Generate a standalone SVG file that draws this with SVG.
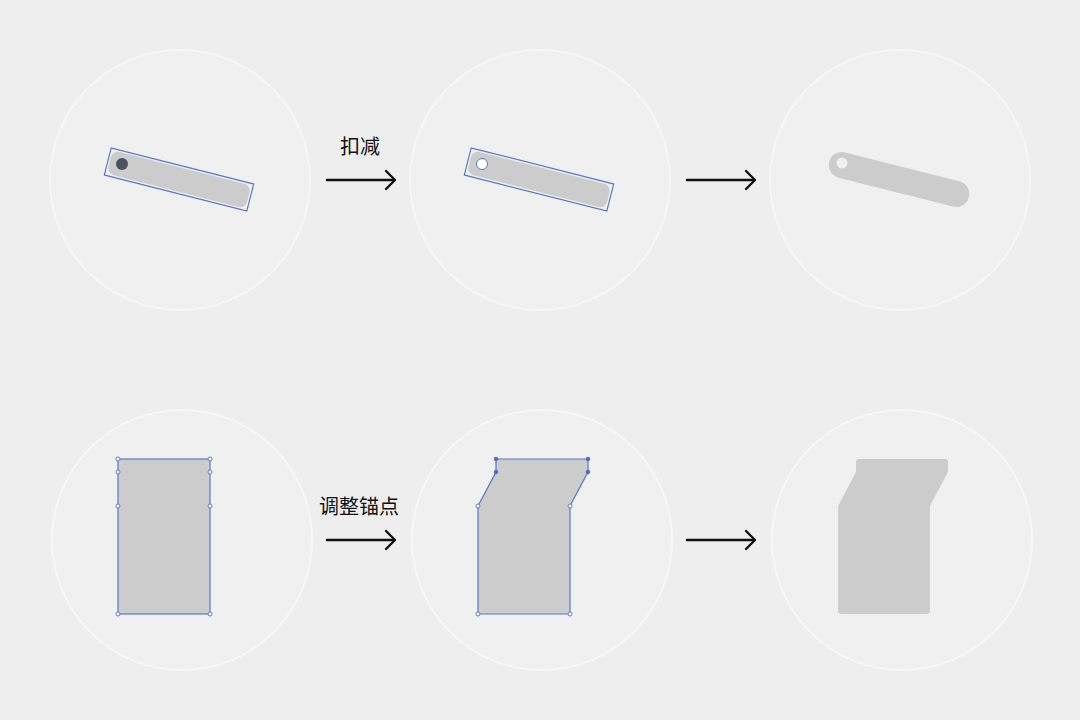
<svg xmlns="http://www.w3.org/2000/svg" width="1080" height="720" viewBox="0 0 1080 720">
<defs>
<style>
.bg{fill:#eeeeee}
.ring{fill:#f0f0f0;stroke:#f7f7f7;stroke-width:2}
.shape{fill:#cccccc}
.sel{fill:none;stroke:#5a78c8;stroke-width:1.2}
.anc{fill:#ffffff;stroke:#5a78c8;stroke-width:1}
.ancs{fill:#4a6cc8;stroke:#4a6cc8;stroke-width:1}
.arrow{fill:none;stroke:#111111;stroke-width:2.4;stroke-linecap:round;stroke-linejoin:round}
.lbl{font-family:"Noto Sans CJK SC","Noto Sans",sans-serif;font-size:20px;fill:#111111;text-anchor:middle}
</style>
</defs>
<rect class="bg" x="0" y="0" width="1080" height="720"/>

<g id="node-top-1">
<circle class="ring" cx="180" cy="180" r="130"/>
<g transform="translate(179,179.5) rotate(14.2)">
<rect class="shape" x="-71.5" y="-12" width="143" height="24" rx="7"/>
<rect class="sel" x="-73.5" y="-14" width="147" height="28"/>
</g>
<circle cx="122" cy="164" r="6" fill="#4a5262"/>
</g>

<g id="node-top-2">
<circle class="ring" cx="540" cy="180" r="130"/>
<g transform="translate(539,179.5) rotate(14.2)">
<rect class="shape" x="-71.5" y="-12" width="143" height="24" rx="7"/>
<rect class="sel" x="-73.5" y="-14" width="147" height="28"/>
</g>
<circle cx="482" cy="164" r="5.5" fill="#ffffff" stroke="#5a78c8" stroke-width="1"/>
</g>

<g id="node-top-3">
<circle class="ring" cx="900" cy="180" r="130"/>
<g transform="translate(899,179.5) rotate(14.2)">
<rect class="shape" x="-72" y="-13" width="144" height="26" rx="13"/>
</g>
<circle cx="842" cy="163" r="5.5" fill="#f0f0f0"/>
</g>

<g id="node-bottom-1">
<circle class="ring" cx="182" cy="540" r="130"/>
<rect class="shape" x="118" y="459" width="92" height="155"/>
<rect class="sel" x="118" y="459" width="92" height="155"/>
<circle class="anc" cx="118" cy="459" r="2"/>
<circle class="anc" cx="210" cy="459" r="2"/>
<circle class="anc" cx="118" cy="472" r="2"/>
<circle class="anc" cx="210" cy="472" r="2"/>
<circle class="anc" cx="118" cy="506" r="2"/>
<circle class="anc" cx="210" cy="506" r="2"/>
<circle class="anc" cx="118" cy="614" r="2"/>
<circle class="anc" cx="210" cy="614" r="2"/>
</g>

<g id="node-bottom-2">
<circle class="ring" cx="542" cy="540" r="130"/>
<polygon class="shape" points="496,459 588,459 588,472 570,506 570,614 478,614 478,506 496,472"/>
<polygon class="sel" points="496,459 588,459 588,472 570,506 570,614 478,614 478,506 496,472"/>
<circle class="ancs" cx="496" cy="459" r="1.8"/>
<circle class="ancs" cx="588" cy="459" r="1.8"/>
<circle class="ancs" cx="496" cy="472" r="1.8"/>
<circle class="ancs" cx="588" cy="472" r="1.8"/>
<circle class="anc" cx="478" cy="506" r="2"/>
<circle class="anc" cx="570" cy="506" r="2"/>
<circle class="anc" cx="478" cy="614" r="2"/>
<circle class="anc" cx="570" cy="614" r="2"/>
</g>

<g id="node-bottom-3">
<circle class="ring" cx="902" cy="540" r="130"/>
<polygon class="shape" points="859,462 945,462 945,471 927,505 927,611 841,611 841,507 859,473" stroke="#cccccc" stroke-width="6" stroke-linejoin="round"/>
</g>

<g id="connectors">
<g id="arrow-top-1">
<path class="arrow" d="M327,180 H395 M386,171 L395,180 L386,189"/>
<text class="lbl" x="360" y="154">扣减</text>
</g>
<g id="arrow-top-2">
<path class="arrow" d="M687,180 H755 M746,171 L755,180 L746,189"/>
</g>
<g id="arrow-bottom-1">
<path class="arrow" d="M327,540 H395 M386,531 L395,540 L386,549"/>
<text class="lbl" x="359" y="514">调整锚点</text>
</g>
<g id="arrow-bottom-2">
<path class="arrow" d="M687,540 H755 M746,531 L755,540 L746,549"/>
</g>
</g>
</svg>
